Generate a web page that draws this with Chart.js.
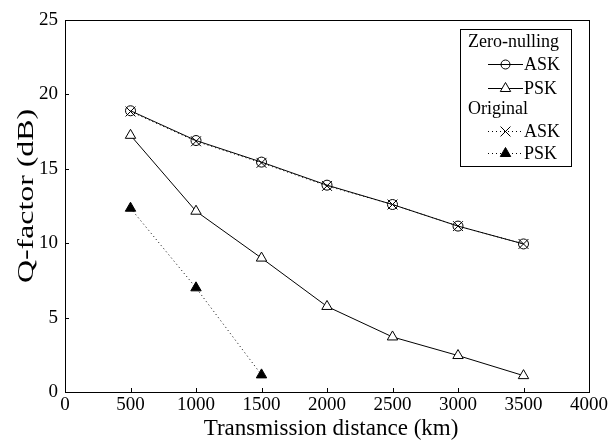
<!DOCTYPE html>
<html>
<head>
<meta charset="utf-8">
<script src="https://cdn.jsdelivr.net/npm/chart.js@4/dist/chart.umd.min.js"></script>
<style>
  html, body { margin: 0; padding: 0; background: #fff; }
  #wrap { width: 615px; height: 441px; }
</style>
</head>
<body>
<div id="wrap"><canvas id="qChart" width="615" height="441"></canvas></div>
<script>
// values
const distances = [500, 1000, 1500, 2000, 2500, 3000, 3500];
const zeroAsk = [18.9, 16.9, 15.45, 13.9, 12.6, 11.15, 9.95];
const zeroPsk = [17.25, 12.15, 9.0, 5.75, 3.7, 2.45, 1.1];
const origAsk = [18.85, 16.85, 15.4, 13.85, 12.6, 11.15, 9.95];
const origDistances = [500, 1000, 1500];
const origPsk = [12.35, 7.0, 1.15];
const xTicks = [0, 500, 1000, 1500, 2000, 2500, 3000, 3500, 4000];
const yTicks = [0, 5, 10, 15, 20, 25];
const xTitle = 'Transmission distance (km)';
const yTitle = 'Q-factor (dB)';

const serif = '"Liberation Serif", "Times New Roman", serif';

function pairs(xs, ys) {
    return xs.map(function (x, i) { return { x: x, y: ys[i] }; });
}

// inner tick marks, plot frame, axis titles
const framePlugin = {
    id: 'frame',
    afterDraw: function (chart) {
        const ctx = chart.ctx;
        const a = chart.chartArea;
        const xs = chart.scales.x, ys = chart.scales.y;
        ctx.save();
        ctx.strokeStyle = '#000';
        ctx.lineWidth = 1;
        ctx.strokeRect(Math.round(a.left) + 0.5, Math.round(a.top) + 0.5,
            Math.round(a.right - a.left), Math.round(a.bottom - a.top));
        ctx.beginPath();
        xTicks.forEach(function (v) {
            const px = Math.round(xs.getPixelForValue(v)) + 0.5;
            ctx.moveTo(px, a.bottom);
            ctx.lineTo(px, a.bottom - 4);
        });
        yTicks.forEach(function (v) {
            const py = Math.round(ys.getPixelForValue(v)) + 0.5;
            ctx.moveTo(a.left, py);
            ctx.lineTo(a.left + 4, py);
        });
        ctx.stroke();

        ctx.fillStyle = '#000';
        ctx.textAlign = 'center';
        ctx.textBaseline = 'middle';
        ctx.font = '23px ' + serif;
        ctx.fillText(xTitle, 331, 429);
        // y title is drawn a bit stretched along its length, as in the source figure
        ctx.font = '24px ' + serif;
        const w = ctx.measureText(yTitle).width;
        ctx.translate(27, 196);
        ctx.rotate(-Math.PI / 2);
        ctx.scale(174 / w, 1);
        ctx.fillText(yTitle, 0, 0);
        ctx.restore();
    }
};

// grouped legend box
const legendPlugin = {
    id: 'groupLegend',
    afterDraw: function (chart) {
        const ctx = chart.ctx;
        const ds = chart.data.datasets;
        const box = { left: 460, top: 29, right: 571, bottom: 166 };
        const rows = [
            { text: 'Zero-nulling', y: 42 },
            { ds: 0, y: 64 },
            { ds: 1, y: 88 },
            { text: 'Original', y: 109 },
            { ds: 2, y: 131 },
            { ds: 3, y: 153 }
        ];
        ctx.save();
        ctx.fillStyle = '#fff';
        ctx.fillRect(box.left, box.top, box.right - box.left, box.bottom - box.top);
        ctx.strokeStyle = '#000';
        ctx.lineWidth = 1;
        ctx.strokeRect(box.left + 0.5, box.top + 0.5, box.right - box.left, box.bottom - box.top);
        ctx.font = '18px ' + serif;
        ctx.textBaseline = 'middle';
        ctx.textAlign = 'left';
        rows.forEach(function (r) {
            ctx.fillStyle = '#000';
            if (r.text) {
                ctx.fillText(r.text, 468, r.y);
                return;
            }
            const d = ds[r.ds];
            ctx.strokeStyle = '#000';
            ctx.setLineDash(d.borderDash || []);
            ctx.beginPath();
            ctx.moveTo(488, r.y + 0.5);
            ctx.lineTo(523, r.y + 0.5);
            ctx.stroke();
            ctx.setLineDash([]);
            ctx.fillStyle = d.pointBackgroundColor;
            ctx.strokeStyle = d.pointBorderColor;
            ctx.lineWidth = 1;
            Chart.helpers.drawPoint(ctx, {
                pointStyle: d.pointStyle,
                radius: d.pointStyle === 'circle' ? 4.5 : d.pointRadius,
                borderWidth: 1, rotation: 0
            }, 505.5, r.y + 0.5);
            ctx.fillStyle = '#000';
            ctx.fillText(d.label, 524, r.y + 1);
        });
        ctx.restore();
    }
};

const plainTick = function (v) { return String(v); };

const canvas = document.getElementById('qChart');
new Chart(canvas.getContext('2d'), {
    type: 'line',
    data: {
        datasets: [
            {
                label: 'ASK', data: pairs(distances, zeroAsk),
                borderColor: '#000', borderWidth: 1,
                pointStyle: 'circle', pointRadius: 5,
                pointBackgroundColor: 'rgba(255,255,255,0)', pointBorderColor: '#000', pointBorderWidth: 1
            },
            {
                label: 'PSK', data: pairs(distances, zeroPsk),
                borderColor: '#000', borderWidth: 1,
                pointStyle: 'triangle', pointRadius: 6,
                pointBackgroundColor: '#fff', pointBorderColor: '#000', pointBorderWidth: 1
            },
            {
                label: 'ASK', data: pairs(distances, origAsk),
                borderColor: '#000', borderWidth: 1, borderDash: [1, 3],
                pointStyle: 'crossRot', pointRadius: 7,
                pointBackgroundColor: '#000', pointBorderColor: '#000', pointBorderWidth: 1
            },
            {
                label: 'PSK', data: pairs(origDistances, origPsk),
                borderColor: '#000', borderWidth: 1, borderDash: [1, 3],
                pointStyle: 'triangle', pointRadius: 6,
                pointBackgroundColor: '#000', pointBorderColor: '#000', pointBorderWidth: 1
            }
        ]
    },
    options: {
        responsive: false,
        animation: false,
        events: [],
        layout: { padding: { top: 20, right: 26, left: 0, bottom: 0 } },
        plugins: { legend: { display: false }, tooltip: { enabled: false } },
        scales: {
            x: {
                type: 'linear', min: 0, max: 4000,
                afterFit: function (s) { s.height = 49; },
                afterBuildTicks: function (s) { s.ticks = xTicks.map(function (v) { return { value: v }; }); },
                grid: { display: false, drawTicks: false },
                border: { display: false },
                ticks: { color: '#000', padding: 2, maxRotation: 0, callback: plainTick, font: { family: serif, size: 19 } }
            },
            y: {
                min: 0, max: 25,
                afterFit: function (s) { s.width = 65; },
                afterBuildTicks: function (s) { s.ticks = yTicks.map(function (v) { return { value: v }; }); },
                grid: { display: false, drawTicks: false },
                border: { display: false },
                ticks: { color: '#000', padding: 7, callback: plainTick, font: { family: serif, size: 19 } }
            }
        }
    },
    plugins: [framePlugin, legendPlugin]
});
</script>
</body>
</html>
